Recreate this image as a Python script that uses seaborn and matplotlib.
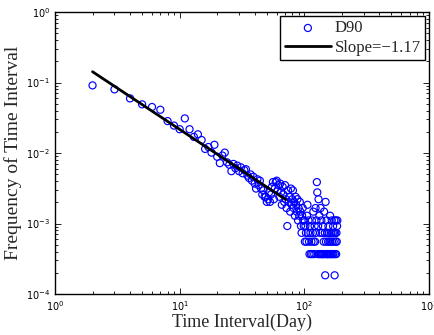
import numpy as np
import pandas as pd
import matplotlib
matplotlib.use("Agg")
import matplotlib.pyplot as plt
import seaborn as sns
from matplotlib.ticker import LogLocator, NullFormatter

# ---- data ----
total_intervals = 5430
days = list(range(2, 100)) + list(range(100, 185))
counts_head = [494, 434, 323, 266, 244, 223, 154, 133, 118, 168, 118, 92, 100, 83,   # 2-15
               62, 66, 55, 71, 48, 39, 50, 55, 40, 37, 30, 38, 33, 36, 30,            # 16-30
               34, 28, 31, 32, 26, 24, 27, 22, 25, 20, 17, 23, 19, 22, 17,            # 31-45
               14, 16, 13, 13, 11, 12, 15, 11, 14, 18, 21, 12, 17, 21, 22,            # 46-60
               16, 19, 13, 20, 15, 10, 18, 14, 11, 19, 12, 9, 5, 16, 11,              # 61-75
               13, 8, 17, 10, 12, 16, 9, 11, 7, 13, 10, 8, 12, 6, 9,                  # 76-90
               7, 11, 8, 5, 4, 7, 9, 6, 5]                                            # 91-99
counts_tail = [6, 3, 5, 4, 3, 7, 10, 4, 6, 3, 2, 5, 4, 2, 3, 6, 2, 4, 8, 3,          # 100-119
               2, 5, 3, 9, 4, 6, 21, 15, 2, 5, 12, 2, 7, 2, 4, 9, 2, 6, 2, 4,         # 120-139
               2, 5, 2, 3, 8, 2, 4, 1, 11, 3, 2, 6, 2, 4, 2, 3, 5, 2, 4, 3,           # 140-159
               2, 7, 3, 2, 4, 2, 6, 3, 2, 4, 5, 2, 3, 4, 6, 1, 2, 4, 3, 6,            # 160-179
               2, 4, 3, 5, 6]                                                         # 180-184
counts = counts_head + counts_tail
frequency = [c / total_intervals for c in counts]

fit_slope = -1.17
fit_intercept = -0.495          # log10 of the prefactor
fit_days = [2, 71]

series_label = "D90"
fit_label = "Slope=\u22121.17"
x_label = "Time Interval(Day)"
y_label = "Frequency of Time Interval"

df = pd.DataFrame({"day": days, "freq": frequency})
fit_x = np.array(fit_days, dtype=float)
fit_df = pd.DataFrame({"day": fit_x, "freq": 10 ** fit_intercept * fit_x ** fit_slope})

# ---- style ----
sns.set_style("ticks")
plt.rcParams["font.family"] = ["DejaVu Sans"]

fig = plt.figure(figsize=(4.35, 3.35), dpi=100)
ax = fig.add_axes([55 / 435, 41 / 335, 374 / 435, 282 / 335])

sns.scatterplot(data=df, x="day", y="freq", ax=ax, marker="o", s=26,
                facecolors="none", edgecolors="#0000ff", linewidth=0.85,
                label=series_label, zorder=3)
sns.lineplot(data=fit_df, x="day", y="freq", ax=ax, color="black", linewidth=2.0,
             label=fit_label, zorder=4)

ax.set_xscale("log")
ax.set_yscale("log")
ax.set_xlim(1, 1000)
ax.set_ylim(1e-4, 1)

ax.xaxis.set_major_locator(LogLocator(base=10, numticks=10))
ax.yaxis.set_major_locator(LogLocator(base=10, numticks=10))
ax.xaxis.set_minor_locator(LogLocator(base=10, subs=np.arange(2, 10), numticks=20))
ax.yaxis.set_minor_locator(LogLocator(base=10, subs=np.arange(2, 10), numticks=20))
ax.xaxis.set_minor_formatter(NullFormatter())
ax.yaxis.set_minor_formatter(NullFormatter())

ax.tick_params(which="both", direction="in", top=True, right=True, colors="black",
               labelsize=7, width=0.6)
ax.tick_params(which="major", length=4)
ax.tick_params(which="minor", length=2)
for sp in ax.spines.values():
    sp.set_linewidth(1.0)
    sp.set_color("black")

ax.set_xlabel(x_label, family="Liberation Serif", fontsize=13, labelpad=1)
ax.set_ylabel(y_label, family="Liberation Serif", fontsize=14, labelpad=3)

leg = ax.legend(loc="upper right", prop={"family": "Liberation Serif", "size": 12},
                frameon=True, fancybox=False, edgecolor="black", framealpha=1,
                borderaxespad=0.25, handlelength=2.8, handletextpad=0.2,
                borderpad=0.25, labelspacing=0.2)
leg.get_frame().set_linewidth(1.0)

fig.savefig("out.png", dpi=100)
